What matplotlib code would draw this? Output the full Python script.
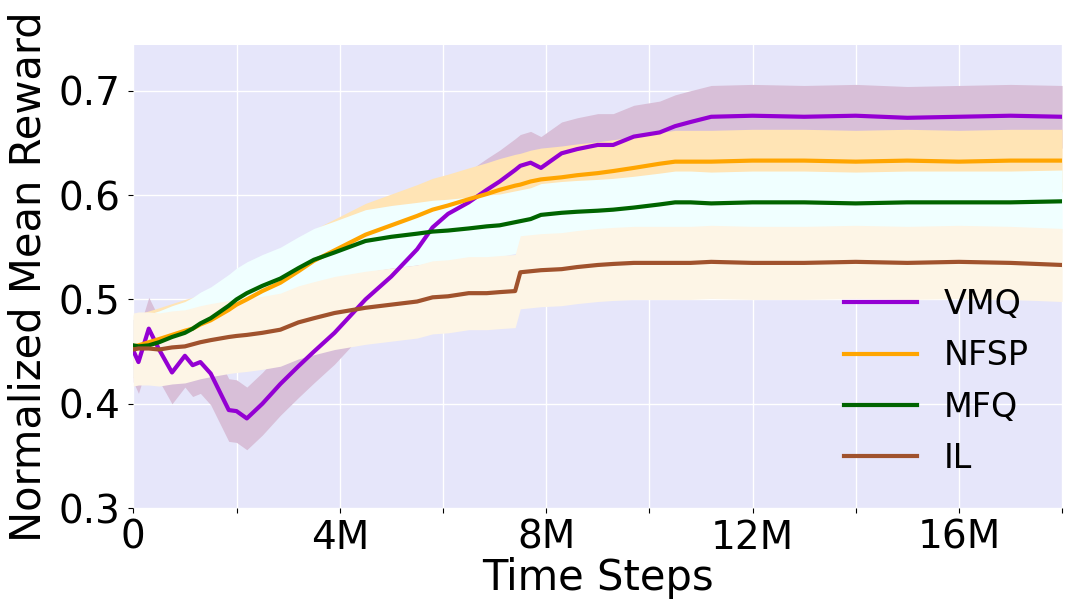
import numpy as np
import matplotlib
matplotlib.use("Agg")
import matplotlib.pyplot as plt

plt.rcParams["font.family"] = ["DejaVu Sans"]

# time steps (millions)
steps = [0, 0.1, 0.3, 0.5, 0.75, 1.0, 1.15, 1.3, 1.5, 1.85, 2.0, 2.2, 2.5, 2.85,
         3.2, 3.5, 3.9, 4.5, 5.0, 5.5, 5.8, 6.1, 6.5, 6.85, 7.1, 7.4, 7.5, 7.7,
         7.9, 8.3, 8.6, 9.0, 9.3, 9.7, 10.2, 10.5, 10.8, 11.2, 12, 13, 14, 15,
         16, 17, 18]

vmq = [0.451, 0.440, 0.472, 0.452, 0.430, 0.446, 0.437, 0.440, 0.429, 0.394,
       0.393, 0.386, 0.400, 0.419, 0.436, 0.450, 0.468, 0.500, 0.522, 0.548,
       0.569, 0.582, 0.593, 0.605, 0.613, 0.624, 0.628, 0.631, 0.626, 0.640,
       0.644, 0.648, 0.648, 0.656, 0.660, 0.666, 0.670, 0.675, 0.676, 0.675,
       0.676, 0.674, 0.675, 0.676, 0.675]
nfsp = [0.455, 0.456, 0.459, 0.462, 0.466, 0.470, 0.472, 0.476, 0.480, 0.490,
        0.495, 0.500, 0.508, 0.516, 0.527, 0.537, 0.547, 0.562, 0.571, 0.580,
        0.586, 0.590, 0.596, 0.601, 0.605, 0.609, 0.610, 0.613, 0.615, 0.617,
        0.619, 0.621, 0.623, 0.626, 0.630, 0.632, 0.632, 0.632, 0.633, 0.633,
        0.632, 0.633, 0.632, 0.633, 0.633]
mfq = [0.456, 0.455, 0.456, 0.459, 0.464, 0.468, 0.472, 0.477, 0.482, 0.494,
       0.500, 0.506, 0.513, 0.520, 0.530, 0.538, 0.545, 0.556, 0.560, 0.563,
       0.565, 0.566, 0.568, 0.570, 0.571, 0.574, 0.575, 0.577, 0.581, 0.583,
       0.584, 0.585, 0.586, 0.588, 0.591, 0.593, 0.593, 0.592, 0.593, 0.593,
       0.592, 0.593, 0.593, 0.593, 0.594]
il = [0.452, 0.453, 0.453, 0.452, 0.454, 0.455, 0.457, 0.459, 0.461, 0.464,
      0.465, 0.466, 0.468, 0.471, 0.478, 0.482, 0.487, 0.492, 0.495, 0.498,
      0.502, 0.503, 0.506, 0.506, 0.507, 0.508, 0.526, 0.527, 0.528, 0.529,
      0.531, 0.533, 0.534, 0.535, 0.535, 0.535, 0.535, 0.536, 0.535, 0.535,
      0.536, 0.535, 0.536, 0.535, 0.533]

# half width of the shaded band
spread = {"VMQ": 0.03, "NFSP": 0.03, "MFQ": 0.03, "IL": 0.035}

names = ["VMQ", "NFSP", "MFQ", "IL"]
series = [vmq, nfsp, mfq, il]
line_colors = ["darkviolet", "orange", "darkgreen", "sienna"]
band_colors = ["thistle", "moccasin", "azure", "oldlace"]

x = np.array(steps) * 1e6

fig = plt.figure(figsize=(10.75, 6.13), dpi=100)
ax = fig.add_axes([0.124, 0.171, 0.864, 0.756])
ax.set_facecolor("lavender")

for name, y, bc in zip(names, series, band_colors):
    y = np.array(y)
    ax.fill_between(x, y - spread[name], y + spread[name], color=bc, lw=0)

for name, y, lc in zip(names, series, line_colors):
    ax.plot(x, y, color=lc, lw=3, label=name)

ax.set_xlim(0, 18e6)
ax.set_ylim(0.3, 0.744)
xt = np.arange(0, 18.1, 2) * 1e6
ax.set_xticks(xt)
ax.set_xticklabels(["0", "", "4M", "", "8M", "", "12M", "", "16M", ""])
ax.set_yticks([0.3, 0.4, 0.5, 0.6, 0.7])
ax.set_yticklabels(["0.3", "0.4", "0.5", "0.6", "0.7"])
ax.tick_params(labelsize=28, length=3.5)
ax.tick_params(axis="y", pad=6)
ax.tick_params(axis="x", pad=4)
for s in ax.spines.values():
    s.set_visible(False)
ax.grid(True, color="white", lw=1)
ax.set_axisbelow(True)

ax.set_xlabel("Time Steps", fontsize=30, labelpad=0)
ax.set_ylabel("Normalized Mean Reward", fontsize=30, labelpad=6)

ax.legend(loc="lower right", fontsize=24, frameon=False, handlelength=2.2,
          handletextpad=0.8, labelspacing=0.55, borderaxespad=0.6)

plt.savefig("out.png", dpi=100)
